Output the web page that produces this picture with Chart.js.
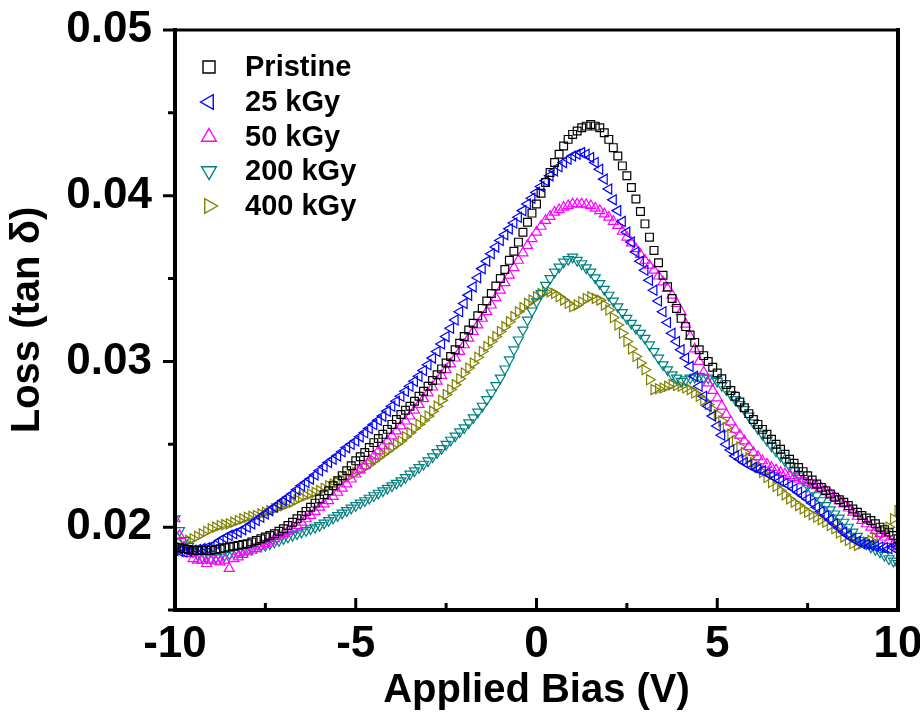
<!DOCTYPE html>
<html>
<head>
<meta charset="utf-8">
<script src="https://cdn.jsdelivr.net/npm/chart.js@4.4.1/dist/chart.umd.min.js"></script>
<style>
  html, body { margin: 0; padding: 0; background: #fff; }
  #wrap { width: 920px; height: 717px; }
</style>
</head>
<body>
<div id="wrap"><canvas id="c" width="920" height="717"></canvas></div>
<script>
const bias = [
-10,-9.875,-9.75,-9.625,-9.5,-9.375,-9.25,-9.125,
-9,-8.875,-8.75,-8.625,-8.5,-8.375,-8.25,-8.125,
-8,-7.875,-7.75,-7.625,-7.5,-7.375,-7.25,-7.125,
-7,-6.875,-6.75,-6.625,-6.5,-6.375,-6.25,-6.125,
-6,-5.875,-5.75,-5.625,-5.5,-5.375,-5.25,-5.125,
-5,-4.875,-4.75,-4.625,-4.5,-4.375,-4.25,-4.125,
-4,-3.875,-3.75,-3.625,-3.5,-3.375,-3.25,-3.125,
-3,-2.875,-2.75,-2.625,-2.5,-2.375,-2.25,-2.125,
-2,-1.875,-1.75,-1.625,-1.5,-1.375,-1.25,-1.125,
-1,-0.875,-0.75,-0.625,-0.5,-0.375,-0.25,-0.125,
0,0.125,0.25,0.375,0.5,0.625,0.75,0.875,
1,1.125,1.25,1.375,1.5,1.625,1.75,1.875,
2,2.125,2.25,2.375,2.5,2.625,2.75,2.875,
3,3.125,3.25,3.375,3.5,3.625,3.75,3.875,
4,4.125,4.25,4.375,4.5,4.625,4.75,4.875,
5,5.125,5.25,5.375,5.5,5.625,5.75,5.875,
6,6.125,6.25,6.375,6.5,6.625,6.75,6.875,
7,7.125,7.25,7.375,7.5,7.625,7.75,7.875,
8,8.125,8.25,8.375,8.5,8.625,8.75,8.875,
9,9.125,9.25,9.375,9.5,9.625,9.75,9.875,
10];

const pristine = [
.0188,.01875,.0187,.01865,.0186,.0186,.0186,.0186,
.0186,.01865,.0187,.01875,.0188,.01885,.0189,.01895,
.0190,.0191,.0192,.0193,.0194,.0195,.0196,.01975,
.0199,.0201,.0203,.0205,.0207,.02095,.0212,.02145,
.0217,.02195,.0222,.0225,.0228,.0231,.0234,.0237,
.0240,.02425,.0245,.0248,.0251,.02535,.0256,.0259,
.0262,.0265,.0268,.02705,.0273,.0276,.0279,.0282,
.0285,.02885,.0292,.02955,.0299,.0303,.0307,.0311,
.0315,.0319,.0323,.03275,.0332,.03365,.0341,.03455,
.0350,.03555,.0361,.03665,.0372,.0378,.0384,.03895,
.0395,.04015,.0408,.0414,.0420,.0425,.0430,.0434,
.0437,.0439,.0441,.0442,.0443,.0442,.0441,.0438,
.0434,.0429,.0424,.0418,.0412,.0405,.0398,.03905,
.0383,.0375,.0367,.03595,.0352,.0345,.0338,.0332,
.0326,.0321,.0316,.03115,.0307,.03035,.0300,.02965,
.0293,.02895,.0286,.02825,.0279,.02755,.0272,.02685,
.0265,.0262,.0259,.0256,.0253,.0250,.0247,.0244,
.0241,.02385,.0236,.02335,.0231,.02285,.0226,.0224,
.0222,.0220,.0218,.02165,.0215,.0213,.0211,.0209,
.0207,.02055,.0204,.0202,.0200,.01985,.0197,.0195,
.0193];

const kGy25 = [
.0186,.01855,.0185,.01855,.0186,.01865,.0187,.01875,
.0188,.0190,.0192,.01935,.0195,.0196,.0197,.01985,
.0200,.0202,.0204,.0206,.0208,.0210,.0212,.0214,
.0216,.0218,.0220,.02225,.0225,.0227,.0229,.02315,
.0234,.02365,.0239,.0241,.0243,.02455,.0248,.0250,
.0252,.02545,.0257,.02595,.0262,.02645,.0267,.0270,
.0273,.0276,.0279,.0282,.0285,.0288,.0291,.02945,
.0298,.0302,.0306,.03105,.0315,.0320,.0325,.0330,
.0335,.0340,.0345,.03505,.0356,.03605,.0365,.0369,
.0373,.03765,.0380,.03835,.0387,.0391,.0395,.03985,
.0402,.04055,.0409,.0412,.0415,.04175,.0420,.0422,
.0424,.0425,.0426,.0425,.0423,.0420,.0416,.0410,
.0404,.03975,.0391,.03845,.0378,.0372,.0366,.03605,
.0355,.0349,.0343,.03365,.0330,.03235,.0317,.0312,
.0307,.0302,.0297,.0291,.0285,.0279,.0273,.0267,
.0261,.02555,.0250,.02465,.0243,.0241,.0239,.02375,
.0236,.0235,.0234,.02325,.0231,.02295,.0228,.02265,
.0225,.0223,.0221,.0219,.0217,.02145,.0212,.02095,
.0207,.02045,.0202,.01995,.0197,.0195,.0193,.01915,
.0190,.01895,.0189,.01885,.0188,.01875,.0187,.01875,
.0188];

const kGy50 = [
.0205,.0195,.0188,.0184,.0181,.0180,.0180,.0178,
.0180,.01795,.0179,.0180,.0175,.0181,.0182,.01835,
.0185,.0186,.0187,.01885,.0190,.01915,.0193,.01945,
.0196,.01975,.0199,.0201,.0203,.0205,.0207,.02095,
.0212,.0214,.0216,.02185,.0221,.02235,.0226,.0229,
.0232,.02345,.0237,.0240,.0243,.0246,.0249,.0252,
.0255,.0258,.0261,.0264,.0267,.02705,.0274,.02775,
.0281,.02845,.0288,.02915,.0295,.02985,.0302,.0306,
.0310,.0314,.0318,.0322,.0326,.0330,.0334,.03385,
.0343,.03475,.0352,.03565,.0361,.03655,.0370,.0374,
.0378,.03815,.0385,.03875,.0390,.03915,.0393,.0394,
.0395,.0395,.0395,.03945,.0394,.03925,.0391,.0389,
.0387,.03845,.0382,.03785,.0375,.03715,.0368,.03645,
.0361,.0358,.0355,.03515,.0348,.0344,.0340,.0335,
.0330,.03225,.0315,.03075,.0300,.02935,.0287,.02825,
.0278,.0273,.0268,.02635,.0259,.02555,.0252,.02485,
.0245,.02425,.0240,.0238,.0236,.02345,.0233,.0232,
.0231,.0230,.0229,.0228,.0227,.0226,.0225,.02235,
.0222,.0220,.0218,.0216,.0214,.02115,.0209,.02065,
.0204,.0202,.0200,.0198,.0196,.0194,.0192,.0190,
.0188];

const kGy200 = [
.0205,.0198,.0192,.01885,.0185,.01835,.0182,.01815,
.0181,.01815,.0182,.0183,.0184,.01845,.0185,.01855,
.0186,.0187,.0188,.01885,.0189,.0190,.0191,.0192,
.0193,.0194,.0195,.0196,.0197,.0198,.0199,.0200,
.0201,.02025,.0204,.02055,.0207,.02085,.0210,.02115,
.0213,.02145,.0216,.02175,.0219,.02205,.0222,.02235,
.0225,.02265,.0228,.0230,.0232,.0234,.0236,.0238,
.0240,.02425,.0245,.02475,.0250,.02525,.0255,.02575,
.0260,.0263,.0266,.02695,.0273,.0277,.0281,.02855,
.0290,.02955,.0301,.0307,.0313,.0319,.0325,.03305,
.0336,.0341,.0346,.0350,.0354,.0357,.0360,.03615,
.0363,.0361,.0359,.03565,.0354,.03505,.0347,.03435,
.0340,.03365,.0333,.03295,.0326,.0323,.0320,.0317,
.0314,.0310,.0306,.0302,.0298,.0295,.0292,.0290,
.0288,.0289,.0290,.02905,.0291,.02905,.0290,.0289,
.0288,.02855,.0283,.0280,.0277,.0274,.0271,.0267,
.0263,.02595,.0256,.02525,.0249,.0246,.0243,.0240,
.0237,.0234,.0231,.0228,.0225,.0222,.0219,.0216,
.0213,.02105,.0208,.02055,.0203,.0200,.0197,.01945,
.0192,.0190,.0188,.01865,.0185,.0183,.0181,.01795,
.0178];

const kGy400 = [
.0189,.0190,.0191,.0192,.0193,.01945,.0196,.01975,
.0199,.0200,.0201,.02015,.0202,.0203,.0204,.0205,
.0206,.02065,.0207,.0208,.0209,.0210,.0211,.0212,
.0213,.0214,.0215,.02165,.0218,.0219,.0220,.0221,
.0222,.02235,.0225,.0226,.0227,.02285,.0230,.02315,
.0233,.02345,.0236,.0238,.0240,.0242,.0244,.0246,
.0248,.0250,.0252,.02545,.0257,.02595,.0262,.02645,
.0267,.0270,.0273,.02765,.0280,.0283,.0286,.02895,
.0293,.0296,.0299,.03025,.0306,.0309,.0312,.0315,
.0318,.0321,.0324,.0327,.0330,.03325,.0335,.0337,
.0339,.0341,.0342,.0342,.0341,.0339,.0337,.0335,
.0333,.0334,.0336,.0338,.0339,.0338,.0337,.0334,
.0331,.03265,.0322,.0317,.0312,.03075,.0303,.0299,
.0295,.0289,.0283,.02835,.0284,.0285,.0286,.02855,
.0285,.0284,.0283,.0281,.0279,.02765,.0274,.0271,
.0268,.0264,.0260,.0256,.0252,.02485,.0245,.0242,
.0239,.0236,.0233,.0230,.0227,.02245,.0222,.02195,
.0217,.0215,.0213,.0211,.0209,.02075,.0206,.02045,
.0203,.0201,.0199,.01965,.0194,.0192,.0190,.0189,
.0190,.0191,.0192,.01935,.0195,.01975,.0200,.0205,
.0210];

const seriesLabels = ['Pristine', '25 kGy', '50 kGy', '200 kGy', '400 kGy'];
const xTicks = [-10, -5, 0, 5, 10];
const xMinorTicks = [-7.5, -2.5, 2.5, 7.5];
const yTicks = [0.02, 0.03, 0.04, 0.05];
const yMinorTicks = [0.015, 0.025, 0.035, 0.045];

const FONT = "'Liberation Sans', Arial, sans-serif";

function pts(arr) { return arr.map((v, i) => ({ x: bias[i], y: v })); }

const styles = [
  { color: '#000000', pointStyle: 'rect', rotation: 0, radius: 5.5 },
  { color: '#0000FF', pointStyle: 'triangle', rotation: -90, radius: 5.8 },
  { color: '#FF00FF', pointStyle: 'triangle', rotation: 0, radius: 5.8 },
  { color: '#008080', pointStyle: 'triangle', rotation: 180, radius: 5.8 },
  { color: '#808000', pointStyle: 'triangle', rotation: 90, radius: 5.8 }
];
const allSeries = [pristine, kGy25, kGy50, kGy200, kGy400];

const datasets = allSeries.map((s, i) => ({
  label: seriesLabels[i],
  data: pts(s),
  showLine: false,
  pointStyle: styles[i].pointStyle,
  rotation: styles[i].rotation,
  pointRadius: styles[i].radius,
  pointHoverRadius: styles[i].radius,
  borderColor: styles[i].color,
  backgroundColor: 'rgba(0,0,0,0)',
  pointBorderWidth: 1.2
}));

const framePlugin = {
  id: 'frame',
  afterDraw(chart) {
    const ctx = chart.ctx;
    const a = chart.chartArea;
    const xs = chart.scales.x, ys = chart.scales.y;
    ctx.save();
    ctx.strokeStyle = '#000';
    ctx.lineCap = 'square';
    ctx.lineWidth = 4;
    ctx.beginPath();
    ctx.moveTo(a.left, a.bottom); ctx.lineTo(a.right, a.bottom);
    ctx.moveTo(a.left, a.top); ctx.lineTo(a.left, a.bottom);
    ctx.moveTo(a.right, a.top); ctx.lineTo(a.right, a.bottom);
    ctx.stroke();
    ctx.lineWidth = 3;
    ctx.beginPath();
    ctx.moveTo(a.left, a.top); ctx.lineTo(a.right, a.top);
    ctx.stroke();
    ctx.lineCap = 'butt';
    ctx.lineWidth = 3;
    ctx.beginPath();
    xTicks.concat(xMinorTicks).forEach(v => {
      const px = xs.getPixelForValue(v);
      const major = xTicks.includes(v);
      ctx.moveTo(px, a.bottom);
      ctx.lineTo(px, a.bottom - (major ? 12 : 7));
    });
    yTicks.concat(yMinorTicks).forEach(v => {
      const py = ys.getPixelForValue(v);
      const major = yTicks.includes(v);
      ctx.moveTo(a.left, py);
      ctx.lineTo(a.left - (major ? 12 : 7), py);
    });
    ctx.stroke();
    // legend
    const lx = 209, tx = 245;
    const rows = [67, 102, 137, 171, 206];
    chart.data.datasets.forEach((ds, i) => {
      ctx.fillStyle = 'rgba(0,0,0,0)';
      ctx.strokeStyle = ds.borderColor;
      ctx.lineWidth = 1.4;
      Chart.helpers.drawPoint(ctx, {
        pointStyle: ds.pointStyle, rotation: ds.rotation,
        radius: ds.pointStyle === 'rect' ? 8.5 : 8.5, borderWidth: 1.4
      }, lx, rows[i]);
      ctx.fillStyle = '#000';
      ctx.font = "bold 29px " + FONT;
      ctx.textBaseline = 'middle';
      ctx.textAlign = 'left';
      ctx.fillText(ds.label, tx, rows[i] + 1);
    });
    ctx.restore();
  }
};

new Chart(document.getElementById('c'), {
  type: 'scatter',
  data: { datasets },
  options: {
    responsive: false,
    animation: false,
    devicePixelRatio: 1,
    layout: { padding: { left: 0, right: 22, top: 30, bottom: 0 } },
    plugins: { legend: { display: false }, tooltip: { enabled: false } },
    scales: {
      x: {
        type: 'linear', min: -10, max: 10,
        afterFit(s) { s.height = 107; s.paddingLeft = 0; s.paddingRight = 0; },
        afterBuildTicks(s) { s.ticks = xTicks.map(v => ({ value: v })); },
        grid: { display: false, drawTicks: false },
        border: { display: false },
        ticks: { color: '#000', font: { family: FONT, size: 44, weight: 'bold' }, padding: 8, maxRotation: 0,
          callback: v => String(v) },
        title: { display: true, text: 'Applied Bias (V)', color: '#000',
          font: { family: FONT, size: 40, weight: 'bold' }, padding: { top: 0, bottom: 2 } }
      },
      y: {
        type: 'linear', min: 0.015, max: 0.05,
        afterFit(s) { s.width = 175; s.paddingTop = 0; s.paddingBottom = 0; },
        afterBuildTicks(s) { s.ticks = yTicks.map(v => ({ value: v })); },
        grid: { display: false, drawTicks: false },
        border: { display: false },
        ticks: { color: '#000', font: { family: FONT, size: 44, weight: 'bold' }, padding: 23,
          callback: v => v.toFixed(2) },
        title: { display: true, text: 'Loss (tan δ)', color: '#000',
          font: { family: FONT, size: 40, weight: 'bold' }, padding: { top: 4, bottom: 0 } }
      }
    }
  },
  plugins: [framePlugin]
});
</script>
</body>
</html>
